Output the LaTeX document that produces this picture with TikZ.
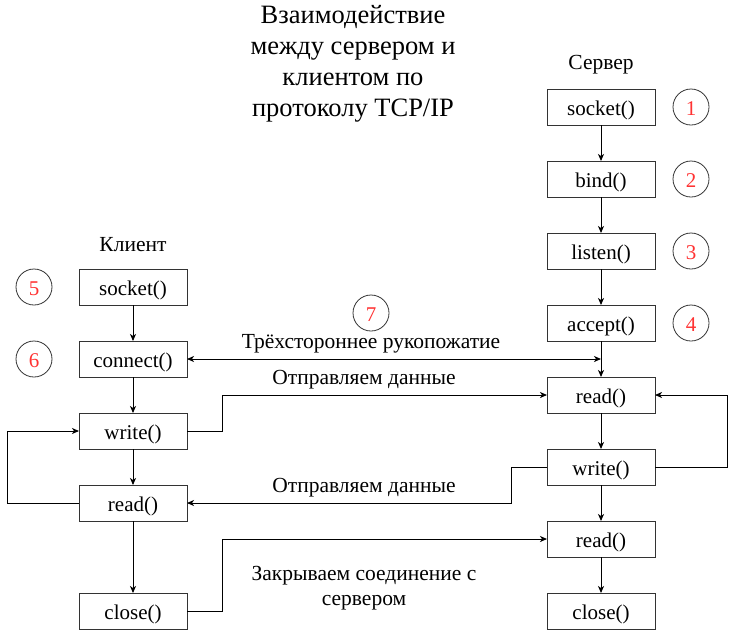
\documentclass[tikz,border=0pt]{standalone}
\usepackage{fontspec}
\setmainfont{Liberation Serif}
\usepackage{tikz}
\usetikzlibrary{positioning,arrows.meta,calc}
\definecolor{numred}{HTML}{FF3333}
\definecolor{edge}{HTML}{333333}
\tikzset{
  funcbox/.style={draw=edge, line width=1pt, minimum width=108pt, minimum height=36pt, inner sep=0pt, outer sep=0pt, text height=18pt, text depth=2pt, font=\fontsize{21}{24}\selectfont},
  stepnum/.style={draw=edge, circle, line width=0.8pt, minimum size=36pt, inner sep=0pt, outer sep=0pt, text height=17.5pt, text depth=0pt, text=numred, font=\fontsize{21}{24}\selectfont},
  plainlabel/.style={align=center, font=\fontsize{21.5}{25}\selectfont},
  flowarrow/.style={-{Stealth[length=7pt,width=6pt,inset=2pt]}, line width=0.9pt, draw=black},
  botharrow/.style={{Stealth[length=7pt,width=6pt,inset=2pt]}-{Stealth[length=7pt,width=6pt,inset=2pt]}, line width=0.9pt, draw=black}
}
\begin{document}
\begin{tikzpicture}[x=1pt, y=-1pt, node distance=36pt and 18pt]
  \useasboundingbox (0,0) rectangle (735,630);
  % title and column heads
  \node[plainlabel, font=\fontsize{26.5}{31}\selectfont] (title) at (353,64) {Взаимодействие\\между сервером и\\клиентом по\\протоколу TCP/IP};
  \node[plainlabel] (serverhead) at (601,65) {Сервер};
  \node[plainlabel] (clienthead) at (133,245) {Клиент};
  % server side
  \node[funcbox] (ssocket) at (601,107) {socket()};
  \node[funcbox, below=of ssocket] (sbind) {bind()};
  \node[funcbox, below=of sbind] (slisten) {listen()};
  \node[funcbox, below=of slisten] (saccept) {accept()};
  \node[funcbox, below=of saccept] (sread) {read()};
  \node[funcbox, below=of sread] (swrite) {write()};
  \node[funcbox, below=of swrite] (sreadend) {read()};
  \node[funcbox, below=of sreadend] (sclose) {close()};
  % client side
  \node[funcbox] (csocket) at (133,287) {socket()};
  \node[funcbox, below=of csocket] (cconnect) {connect()};
  \node[funcbox, below=of cconnect] (cwrite) {write()};
  \node[funcbox, below=of cwrite] (cread) {read()};
  \node[funcbox, below=72pt of cread] (cclose) {close()};
  % step numbers
  \node[stepnum, right=of ssocket] (n1) {1};
  \node[stepnum, right=of sbind] (n2) {2};
  \node[stepnum, right=of slisten] (n3) {3};
  \node[stepnum, right=of saccept] (n4) {4};
  \node[stepnum, left=27pt of csocket] (n5) {5};
  \node[stepnum, left=27pt of cconnect] (n6) {6};
  \node[stepnum] (n7) at (371,313) {7};
  % vertical flow
  \draw[flowarrow] (ssocket) -- (sbind);
  \draw[flowarrow] (sbind) -- (slisten);
  \draw[flowarrow] (slisten) -- (saccept);
  \draw[flowarrow] (saccept) -- (sread);
  \draw[flowarrow] (sread) -- (swrite);
  \draw[flowarrow] (swrite) -- (sreadend);
  \draw[flowarrow] (sreadend) -- (sclose);
  \draw[flowarrow] (csocket) -- (cconnect);
  \draw[flowarrow] (cconnect) -- (cwrite);
  \draw[flowarrow] (cwrite) -- (cread);
  \draw[flowarrow] (cread) -- (cclose);
  % exchanges
  \coordinate (handshake) at (cconnect -| saccept);
  \draw[botharrow] (cconnect) -- (handshake);
  \node[plainlabel] (hslabel) at (371,344) {Трёхстороннее рукопожатие};
  \draw[flowarrow] (cwrite.east) -- ++(35,0) |- (sread.west);
  \node[plainlabel] (sendlabel) at (364,380) {Отправляем данные};
  \draw[flowarrow] (swrite.east) -- ++(72,0) |- (sread.east);
  \draw[flowarrow] (swrite.west) -- ++(-36,0) |- (cread.east);
  \node[plainlabel] (replylabel) at (364,488) {Отправляем данные};
  \draw[flowarrow] (cread.west) -- ++(-72,0) |- (cwrite.west);
  \draw[flowarrow] (cclose.east) -- ++(35,0) |- (sreadend.west);
  \node[plainlabel] (closelabel) at (364,588) {Закрываем соединение с\\сервером};
\end{tikzpicture}
\end{document}
